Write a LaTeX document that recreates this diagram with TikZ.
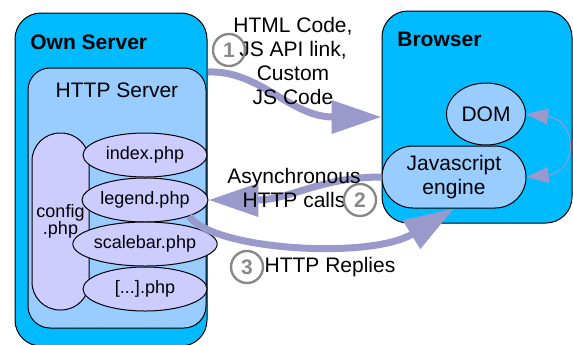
\documentclass[tikz,border=0pt]{standalone}
\usepackage{fontspec}
\setmainfont{Liberation Sans}
\usetikzlibrary{arrows.meta,shapes.geometric}

\definecolor{ownblue}{HTML}{00BBFF}
\definecolor{httpblue}{HTML}{99CCFF}
\definecolor{phplav}{HTML}{CCCCFF}
\definecolor{arrowlav}{HTML}{9999CC}
\definecolor{numgray}{HTML}{888888}

\begin{document}
\begin{tikzpicture}[x=0.5pt, y=-0.5pt,
    outerbox/.style={rectangle, draw, line width=0.5pt, fill=ownblue, rounded corners=13pt},
    innerbox/.style={rectangle, draw, line width=0.5pt, fill=httpblue, rounded corners=11pt},
    php/.style={ellipse, draw, line width=0.5pt, fill=phplav, minimum width=62pt, minimum height=22pt, inner sep=0pt, font=\fontsize{9}{10}\selectfont},
    title/.style={font=\fontsize{10.5}{12}\selectfont\bfseries, inner sep=0pt},
    msg/.style={align=center, font=\fontsize{10.5}{12}\selectfont, inner sep=0pt},
    numcirc/.style={circle, draw=numgray, line width=1.2pt, minimum size=16pt, inner sep=0pt, text=numgray, font=\fontsize{10.5}{12}\selectfont\bfseries},
    fatarrow/.style={draw=arrowlav, line width=3.5pt, -{Triangle[length=25pt, width=16pt]}},
    thinarrow/.style={draw=arrowlav, line width=0.5pt, {Triangle[length=11pt, width=8pt]}-{Triangle[length=11pt, width=8pt]}}
]
    \useasboundingbox (0,0) rectangle (573,344);

    % Own Server
    \node[outerbox, minimum width=96pt, minimum height=166.5pt] (own) at (111,179.5) {};
    \node[title, anchor=west] (own-label) at (30,42) {Own Server};
    \node[innerbox, minimum width=89pt, minimum height=130pt] (http) at (117,198) {};
    \node[msg] (http-label) at (117,90) {HTTP Server};

    % scripts
    \node[rectangle, draw, line width=0.5pt, fill=phplav, rounded corners=14pt, minimum width=28.5pt, minimum height=88.5pt, inner sep=0pt, align=center, font=\fontsize{9}{8.5}\selectfont] (config) at (60.5,221.5) {config\\.php};
    \node[php] (index) at (145,155) {index.php};
    \node[php] (legend) at (145,200) {legend.php};
    \node[php] (scalebar) at (145,244) {scalebar.php};
    \node[php] (other) at (145,289) {[...].php};

    % Browser
    \node[outerbox, minimum width=95pt, minimum height=106pt] (browser) at (477,117) {};
    \node[title, anchor=west] (browser-label) at (397,39) {Browser};
    \node[ellipse, draw, line width=0.5pt, fill=httpblue, minimum width=39.5pt, minimum height=31pt, inner sep=0pt, font=\fontsize{10.5}{12}\selectfont] (dom) at (486,114) {DOM};
    \node[rectangle, draw, line width=0.5pt, fill=httpblue, rounded corners=15.5pt, minimum width=72pt, minimum height=31pt, inner sep=0pt, align=center, font=\fontsize{10.5}{12}\selectfont] (js) at (454,177) {Javascript\\engine};

    % connectors
    \coordinate (a1s) at (208,72);
    \draw[fatarrow] (a1s) .. controls (260,70) and (290,117) .. (browser.west);
    \draw[fatarrow] (js.west) .. controls (320,177) and (290,200) .. (legend.east);
    \draw[fatarrow] (legend.-20) .. controls (212,250) and (370,260) .. (js.south);
    \draw[thinarrow] (dom.east) .. controls (578,120) and (578,172) .. (js.east);

    % labels
    \node[msg] (code-label) at (293,60.5) {HTML Code,\\JS API link,\\Custom\\JS Code};
    \node[msg] (calls-label) at (294,187.5) {Asynchronous\\HTTP calls};
    \node[msg] (reply-label) at (330,267) {HTTP Replies};
    \node[numcirc] (n1) at (229,50) {1};
    \node[numcirc] (n2) at (360,200) {2};
    \node[numcirc] (n3) at (247,267) {3};
\end{tikzpicture}
\end{document}
